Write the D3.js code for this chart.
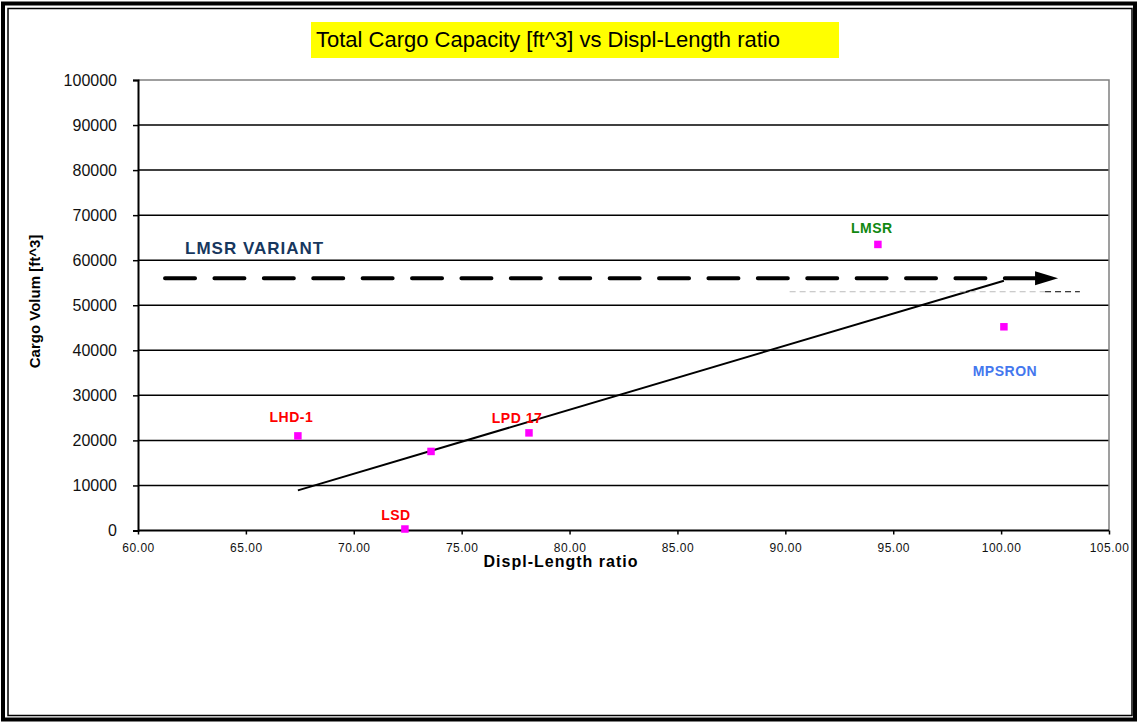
<!DOCTYPE html>
<html>
<head>
<meta charset="utf-8">
<script src="https://cdn.jsdelivr.net/npm/d3@7"></script>
<style>
  body { margin: 0; background: #fff; }
  svg { display: block; font-family: Arial, 'Liberation Sans', sans-serif; }
</style>
</head>
<body>
<script>
// values
const shipNames = ['LHD-1', '', 'LSD', 'LPD 17', 'LMSR', 'MPSRON'];
const displLength = [67.41, 73.58, 72.37, 78.12, 94.29, 100.13];
const cargoVolume = [21000, 17550, 330, 21670, 63500, 45220];

const xTicks = [60, 65, 70, 75, 80, 85, 90, 95, 100, 105];
const yTicks = [0, 10000, 20000, 30000, 40000, 50000, 60000, 70000, 80000, 90000, 100000];

// LMSR variant arrow and the thin reference line
const variantLevel = 56000;
const variantFrom = 61.16, variantTo = 102.64;
const refLevel = 53000;
const refFrom = 90.2, refTo = 103.65;

const width = 1138, height = 723;
const margins = {top: 80, right: 29, bottom: 192.5, left: 138};

const svg = d3.select('body').append('svg')
  .attr('width', width)
  .attr('height', height);

// double frame
svg.append('rect').attr('x', 3).attr('y', 3.5).attr('width', 1132).attr('height', 716)
  .attr('fill', 'none').attr('stroke', '#000').attr('stroke-width', 4);
svg.append('rect').attr('x', 8).attr('y', 8.5).attr('width', 1124).attr('height', 707)
  .attr('fill', 'none').attr('stroke', '#000').attr('stroke-width', 1.5);

const x = d3.scaleLinear().domain([60, 105]).range([margins.left, width - margins.right]);
const y = d3.scaleLinear().domain([0, 100000]).range([height - margins.bottom, margins.top]);

// title
svg.append('rect').attr('x', 311).attr('y', 22).attr('width', 528).attr('height', 36).attr('fill', '#ffff00');
svg.append('text').attr('x', 316).attr('y', 46.5)
  .style('font-size', '22px').attr('fill', '#000')
  .text('Total Cargo Capacity [ft^3] vs Displ-Length ratio');

// grid
svg.append('g')
  .selectAll('line')
  .data(yTicks.filter((d) => d > 0 && d < 100000))
  .join('line')
  .attr('x1', x(60)).attr('x2', x(105))
  .attr('y1', (d) => y(d)).attr('y2', (d) => y(d))
  .attr('stroke', '#000').attr('stroke-width', 1.5);

// plot border top / right
svg.append('path')
  .attr('d', `M${x(60)},${y(100000)}H${x(105)}V${y(0)}`)
  .attr('fill', 'none').attr('stroke', '#808080').attr('stroke-width', 1.5);

// axes
const yAxis = svg.append('g')
  .attr('transform', `translate(${x(60)},0)`)
  .call(d3.axisLeft(y).tickValues(yTicks).tickSize(5).tickPadding(16).tickFormat((d) => d));
yAxis.select('.domain').attr('stroke-width', 2);
yAxis.selectAll('.tick line').attr('stroke-width', 1.5);
yAxis.selectAll('.tick text').style('font-size', '16px').attr('fill', '#111');

const xAxis = svg.append('g')
  .attr('transform', `translate(0,${y(0)})`)
  .call(d3.axisBottom(x).tickValues(xTicks).tickSize(4).tickPadding(9).tickFormat(d3.format('.2f')));
xAxis.select('.domain').attr('stroke-width', 2).attr('d', `M${x(60)},0H${x(105)}`);
xAxis.selectAll('.tick line').attr('stroke-width', 1.5);
xAxis.selectAll('.tick text').style('font-size', '12px').style('letter-spacing', '0.5px').attr('fill', '#111');

// axis titles
svg.append('text')
  .attr('x', 561).attr('y', 567)
  .attr('text-anchor', 'middle')
  .style('font-size', '16px').style('font-weight', 'bold').style('letter-spacing', '1px')
  .text('Displ-Length ratio');

svg.append('text')
  .attr('transform', 'translate(40,301.5) rotate(-90)')
  .attr('text-anchor', 'middle')
  .style('font-size', '15px').style('font-weight', 'bold')
  .text('Cargo Volum [ft^3]');

// linear trend line
const points = displLength.map((d, i) => ({name: shipNames[i], x: d, y: cargoVolume[i]}));
const mx = d3.mean(points, (d) => d.x);
const my = d3.mean(points, (d) => d.y);
const slope = d3.sum(points, (d) => (d.x - mx) * (d.y - my)) / d3.sum(points, (d) => (d.x - mx) ** 2);
const trend = (v) => my + slope * (v - mx);
const [minX, maxX] = d3.extent(points, (d) => d.x);
svg.append('line')
  .attr('x1', x(minX)).attr('y1', y(trend(minX)))
  .attr('x2', x(maxX)).attr('y2', y(trend(maxX)))
  .attr('stroke', '#000').attr('stroke-width', 2);

// thin reference line
const refMid = x(refFrom) + (x(refTo) - x(refFrom)) * 0.88;
svg.append('line')
  .attr('x1', x(refFrom)).attr('x2', refMid)
  .attr('y1', y(refLevel)).attr('y2', y(refLevel))
  .attr('stroke', '#bbb').attr('stroke-width', 1).attr('stroke-dasharray', '6,4');
svg.append('line')
  .attr('x1', refMid).attr('x2', x(refTo))
  .attr('y1', y(refLevel)).attr('y2', y(refLevel))
  .attr('stroke', '#000').attr('stroke-width', 1).attr('stroke-dasharray', '6,4');

// dashed arrow
const tipX = x(variantTo), baseX = tipX - 23, vy = y(variantLevel);
svg.append('line')
  .attr('x1', x(variantFrom) + 2).attr('x2', baseX)
  .attr('y1', vy).attr('y2', vy)
  .attr('stroke', '#000').attr('stroke-width', 4)
  .attr('stroke-linecap', 'round').attr('stroke-dasharray', '30,19.4');
svg.append('path')
  .attr('d', `M${baseX},${vy - 7}L${tipX},${vy}L${baseX},${vy + 7}Z`)
  .attr('fill', '#000');

svg.append('text')
  .attr('x', x(variantFrom) + 22).attr('y', 254)
  .style('font-size', '17px').style('font-weight', 'bold').style('letter-spacing', '1px')
  .attr('fill', '#17375e')
  .text('LMSR VARIANT');

// markers
svg.append('g')
  .selectAll('rect')
  .data(points)
  .join('rect')
  .attr('x', (d) => x(d.x) - 3.75).attr('y', (d) => y(d.y) - 3.75)
  .attr('width', 7.5).attr('height', 7.5)
  .attr('fill', '#ff00ff');

// point labels
const labelStyle = {
  'LHD-1': {dx: -6.5, dy: -14, color: '#ff0000'},
  'LSD': {dx: -9, dy: -9, color: '#ff0000'},
  'LPD 17': {dx: -12, dy: -10, color: '#ff0000'},
  'LMSR': {dx: -6, dy: -11, color: '#118811'},
  'MPSRON': {dx: 1, dy: 49, color: '#4477ee'}
};
svg.append('g')
  .selectAll('text')
  .data(points.filter((d) => d.name))
  .join('text')
  .attr('x', (d) => x(d.x) + labelStyle[d.name].dx)
  .attr('y', (d) => y(d.y) + labelStyle[d.name].dy)
  .attr('text-anchor', 'middle')
  .attr('fill', (d) => labelStyle[d.name].color)
  .style('font-size', '14px').style('font-weight', 'bold').style('letter-spacing', '0.5px')
  .text((d) => d.name);
</script>
</body>
</html>
